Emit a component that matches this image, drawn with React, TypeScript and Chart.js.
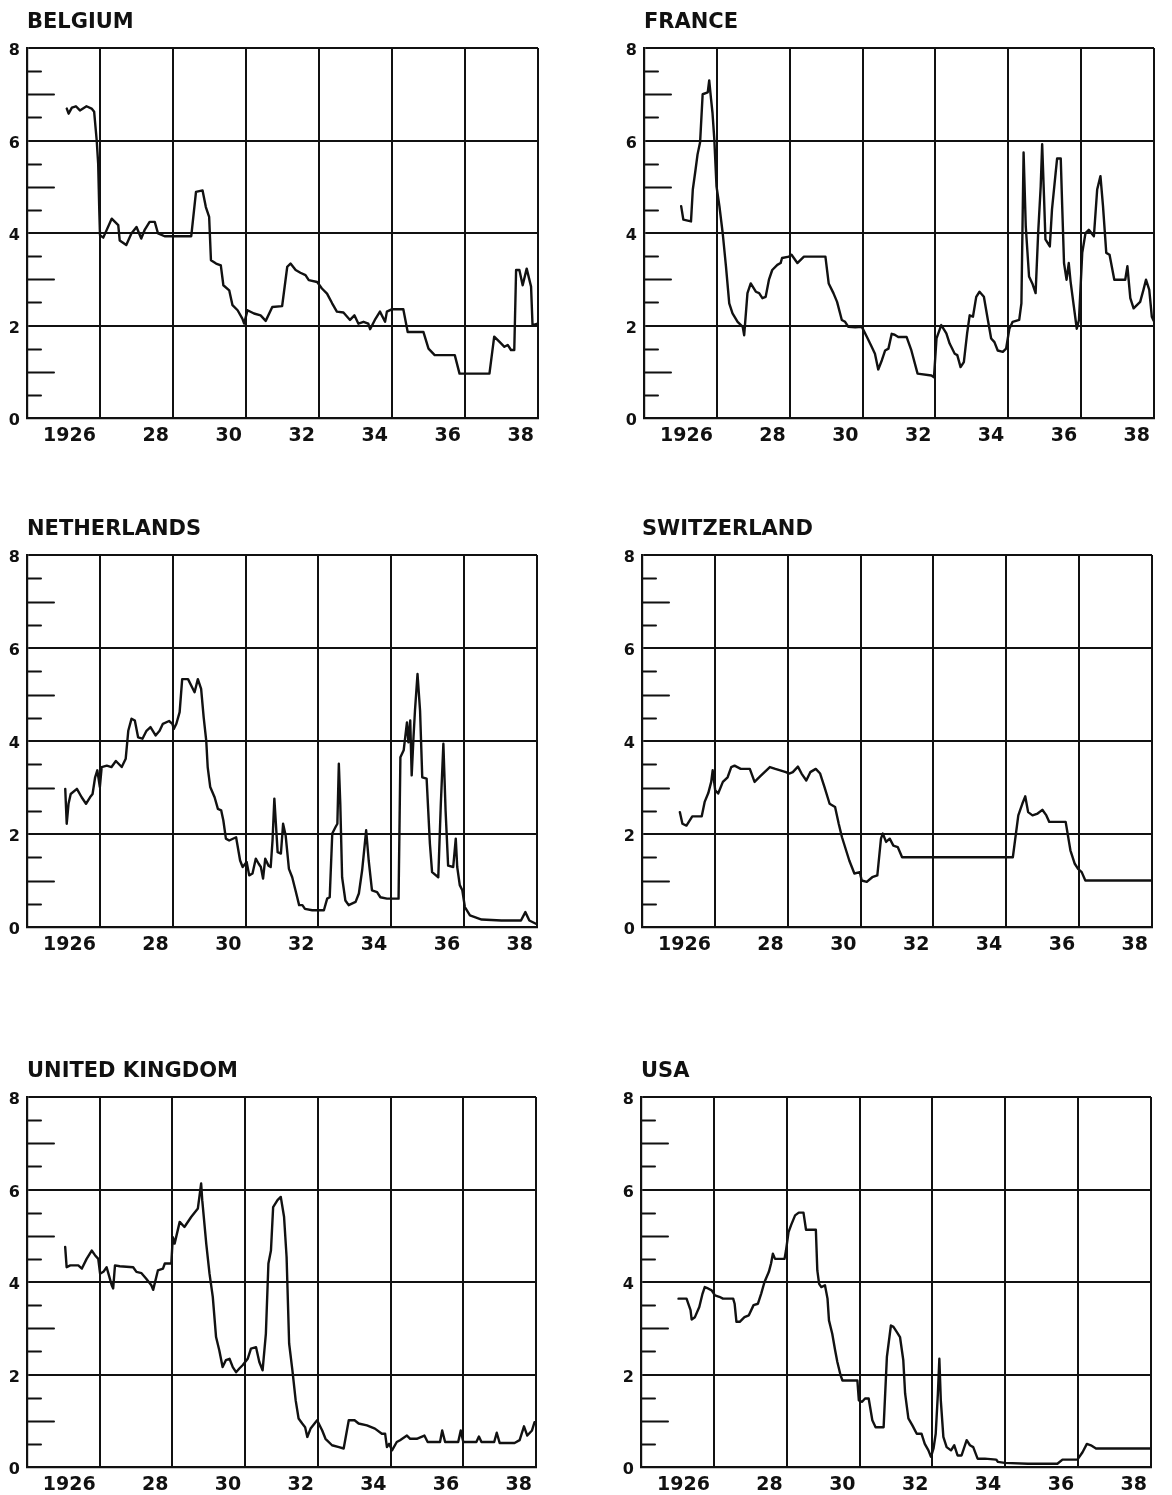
import React, { useEffect, useRef } from 'react';
import { Chart, registerables } from 'chart.js';

Chart.register(...registerables);

const FONT = '"DejaVu Sans", "Liberation Sans", sans-serif';
const INK = '#111111';

// Axis definitions
const xGridYears = [1927, 1929, 1931, 1933, 1935, 1937, 1939];
const xTickLabels = ['1926', '28', '30', '32', '34', '36', '38'];
const yTickValues = [0, 2, 4, 6, 8];
const yMinorTicks = [0.5, 1, 1.5, 2.5, 3, 3.5, 4.5, 5, 5.5, 6.5, 7, 7.5];

// Series: [year, rate %]
const belgium: [number, number][] = [
  [1926.09, 6.69], [1926.14, 6.58], [1926.23, 6.71], [1926.34, 6.74], [1926.45, 6.65], [1926.63, 6.74],
  [1926.77, 6.69], [1926.84, 6.62], [1926.91, 6.0], [1926.95, 5.5], [1926.98, 4.5], [1927.0, 3.95],
  [1927.09, 3.9], [1927.32, 4.31], [1927.5, 4.17], [1927.54, 3.84], [1927.72, 3.74], [1927.86, 3.99],
  [1928.0, 4.13], [1928.13, 3.88], [1928.22, 4.06], [1928.36, 4.24], [1928.5, 4.24], [1928.59, 3.99],
  [1928.77, 3.93], [1929.0, 3.93], [1929.5, 3.93], [1929.63, 4.89], [1929.81, 4.92], [1929.9, 4.56],
  [1929.99, 4.35], [1930.04, 3.41], [1930.18, 3.34], [1930.31, 3.3], [1930.38, 2.87], [1930.54, 2.76],
  [1930.63, 2.44], [1930.77, 2.33], [1930.9, 2.15], [1930.95, 2.04], [1931.04, 2.33], [1931.22, 2.26],
  [1931.4, 2.22], [1931.54, 2.1], [1931.72, 2.4], [1931.99, 2.42], [1932.13, 3.27], [1932.22, 3.34],
  [1932.36, 3.2], [1932.49, 3.14], [1932.63, 3.09], [1932.72, 2.98], [1932.95, 2.94], [1933.08, 2.8],
  [1933.22, 2.69], [1933.36, 2.48], [1933.49, 2.3], [1933.67, 2.28], [1933.85, 2.12], [1933.97, 2.22],
  [1934.08, 2.04], [1934.22, 2.08], [1934.35, 2.04], [1934.4, 1.92], [1934.53, 2.12], [1934.67, 2.3],
  [1934.81, 2.08], [1934.86, 2.3], [1934.99, 2.35], [1935.31, 2.35], [1935.43, 1.86], [1935.86, 1.86],
  [1936.0, 1.5], [1936.17, 1.36], [1936.72, 1.36], [1936.85, 0.96], [1937.67, 0.96], [1937.8, 1.76],
  [1937.94, 1.65], [1938.08, 1.54], [1938.17, 1.58], [1938.26, 1.47], [1938.35, 1.47], [1938.4, 3.2],
  [1938.49, 3.2], [1938.58, 2.87], [1938.69, 3.23], [1938.81, 2.84], [1938.85, 2.01], [1938.99, 2.04],
];

const france: [number, number][] = [
  [1926.02, 4.58], [1926.08, 4.29], [1926.29, 4.25], [1926.34, 4.94], [1926.41, 5.34], [1926.47, 5.7],
  [1926.54, 5.96], [1926.61, 7.0], [1926.75, 7.04], [1926.79, 7.3], [1926.84, 6.9], [1926.88, 6.6],
  [1926.93, 6.03], [1926.99, 5.01], [1927.07, 4.58], [1927.16, 4.0], [1927.25, 3.28], [1927.34, 2.48],
  [1927.43, 2.26], [1927.57, 2.08], [1927.71, 1.97], [1927.75, 1.79], [1927.84, 2.7], [1927.93, 2.91],
  [1928.07, 2.73], [1928.16, 2.7], [1928.25, 2.59], [1928.34, 2.62], [1928.43, 2.99], [1928.52, 3.2],
  [1928.66, 3.31], [1928.75, 3.35], [1928.79, 3.46], [1928.98, 3.49], [1929.05, 3.53], [1929.21, 3.35],
  [1929.39, 3.49], [1929.98, 3.49], [1930.07, 2.91], [1930.2, 2.7], [1930.3, 2.51], [1930.43, 2.12],
  [1930.52, 2.08], [1930.61, 1.97], [1930.8, 1.96], [1930.98, 1.97], [1931.12, 1.75], [1931.25, 1.54],
  [1931.34, 1.39], [1931.43, 1.05], [1931.53, 1.25], [1931.62, 1.46], [1931.71, 1.5], [1931.8, 1.82],
  [1931.88, 1.8], [1931.98, 1.75], [1932.21, 1.75], [1932.34, 1.46], [1932.51, 0.96], [1932.89, 0.92],
  [1932.96, 0.88], [1933.03, 1.72], [1933.16, 2.01], [1933.3, 1.83], [1933.39, 1.61], [1933.53, 1.39],
  [1933.6, 1.36], [1933.69, 1.1], [1933.78, 1.21], [1933.87, 1.83], [1933.94, 2.22], [1934.03, 2.19],
  [1934.12, 2.62], [1934.21, 2.73], [1934.33, 2.62], [1934.44, 2.12], [1934.53, 1.72], [1934.62, 1.64],
  [1934.71, 1.46], [1934.85, 1.43], [1934.94, 1.5], [1935.03, 1.93], [1935.12, 2.08], [1935.3, 2.12],
  [1935.36, 2.48], [1935.42, 5.74], [1935.48, 4.14], [1935.57, 3.06], [1935.66, 2.91], [1935.75, 2.7],
  [1935.82, 4.0], [1935.89, 5.01], [1935.93, 5.92], [1935.98, 4.8], [1936.02, 3.86], [1936.14, 3.71],
  [1936.2, 4.51], [1936.3, 5.3], [1936.34, 5.61], [1936.44, 5.61], [1936.48, 4.58], [1936.53, 3.35],
  [1936.6, 2.99], [1936.66, 3.35], [1936.71, 2.95], [1936.8, 2.41], [1936.88, 1.93], [1936.94, 2.12],
  [1937.03, 3.57], [1937.12, 4.0], [1937.21, 4.07], [1937.35, 3.93], [1937.44, 4.94], [1937.53, 5.23],
  [1937.6, 4.58], [1937.69, 3.57], [1937.78, 3.53], [1937.91, 2.99], [1938.21, 2.99], [1938.27, 3.28],
  [1938.35, 2.59], [1938.44, 2.37], [1938.62, 2.51], [1938.71, 2.77], [1938.78, 2.99], [1938.87, 2.77],
  [1938.94, 2.19], [1938.99, 2.1],
];

const netherlands: [number, number][] = [
  [1926.05, 2.97], [1926.09, 2.22], [1926.14, 2.65], [1926.2, 2.86], [1926.37, 2.97], [1926.5, 2.79],
  [1926.62, 2.65], [1926.73, 2.79], [1926.8, 2.86], [1926.87, 3.22], [1926.93, 3.37], [1927.0, 3.01],
  [1927.05, 3.44], [1927.19, 3.47], [1927.32, 3.44], [1927.44, 3.57], [1927.6, 3.44], [1927.71, 3.62],
  [1927.78, 4.22], [1927.87, 4.48], [1927.96, 4.44], [1928.05, 4.08], [1928.17, 4.05], [1928.28, 4.22],
  [1928.39, 4.3], [1928.53, 4.12], [1928.64, 4.22], [1928.73, 4.37], [1928.9, 4.43], [1928.99, 4.37],
  [1929.03, 4.26], [1929.1, 4.37], [1929.19, 4.62], [1929.26, 5.33], [1929.42, 5.33], [1929.6, 5.05],
  [1929.69, 5.33], [1929.78, 5.12], [1929.85, 4.51], [1929.92, 4.01], [1929.96, 3.44], [1930.03, 3.01],
  [1930.15, 2.79], [1930.24, 2.54], [1930.33, 2.51], [1930.39, 2.29], [1930.46, 1.9], [1930.55, 1.86],
  [1930.74, 1.93], [1930.85, 1.43], [1930.92, 1.29], [1931.03, 1.4], [1931.1, 1.11], [1931.19, 1.15],
  [1931.28, 1.47], [1931.36, 1.36], [1931.42, 1.29], [1931.48, 1.04], [1931.54, 1.47], [1931.63, 1.32],
  [1931.69, 1.29], [1931.74, 1.86], [1931.79, 2.76], [1931.88, 1.61], [1931.97, 1.58], [1932.03, 2.22],
  [1932.1, 1.97], [1932.19, 1.25], [1932.28, 1.07], [1932.37, 0.79], [1932.47, 0.47], [1932.56, 0.47],
  [1932.63, 0.39], [1932.83, 0.36], [1933.15, 0.36], [1933.24, 0.61], [1933.31, 0.64], [1933.38, 2.01],
  [1933.47, 2.15], [1933.52, 2.22], [1933.56, 3.51], [1933.6, 2.65], [1933.65, 1.07], [1933.74, 0.57],
  [1933.83, 0.47], [1934.02, 0.54], [1934.11, 0.72], [1934.2, 1.22], [1934.31, 2.08], [1934.38, 1.43],
  [1934.47, 0.79], [1934.61, 0.75], [1934.7, 0.64], [1934.88, 0.61], [1935.2, 0.61], [1935.25, 3.65],
  [1935.34, 3.8], [1935.43, 4.4], [1935.47, 3.97], [1935.52, 4.44], [1935.56, 3.26], [1935.61, 4.08],
  [1935.65, 4.65], [1935.72, 5.44], [1935.79, 4.65], [1935.85, 3.22], [1935.97, 3.19], [1936.06, 1.79],
  [1936.12, 1.18], [1936.29, 1.07], [1936.36, 2.65], [1936.43, 3.94], [1936.49, 2.51], [1936.56, 1.32],
  [1936.7, 1.29], [1936.77, 1.9], [1936.81, 1.29], [1936.88, 0.9], [1936.95, 0.79], [1937.02, 0.43],
  [1937.16, 0.25], [1937.48, 0.16], [1938.02, 0.14], [1938.56, 0.14], [1938.68, 0.32], [1938.79, 0.14],
  [1938.97, 0.07],
];

const switzerland: [number, number][] = [
  [1926.04, 2.47], [1926.11, 2.22], [1926.22, 2.18], [1926.38, 2.38], [1926.64, 2.38], [1926.72, 2.69],
  [1926.82, 2.88], [1926.9, 3.12], [1926.94, 3.37], [1927.01, 2.94], [1927.09, 2.87], [1927.22, 3.12],
  [1927.35, 3.22], [1927.45, 3.44], [1927.54, 3.47], [1927.71, 3.4], [1927.96, 3.4], [1928.09, 3.12],
  [1928.27, 3.26], [1928.51, 3.44], [1928.66, 3.4], [1928.95, 3.33], [1929.04, 3.3], [1929.14, 3.33],
  [1929.28, 3.45], [1929.38, 3.3], [1929.51, 3.15], [1929.62, 3.33], [1929.77, 3.4], [1929.89, 3.3],
  [1930.01, 3.01], [1930.15, 2.65], [1930.3, 2.58], [1930.4, 2.22], [1930.49, 1.93], [1930.69, 1.43],
  [1930.83, 1.15], [1930.98, 1.18], [1931.03, 1.0], [1931.17, 0.97], [1931.32, 1.07], [1931.46, 1.11],
  [1931.56, 1.9], [1931.61, 2.01], [1931.7, 1.83], [1931.8, 1.9], [1931.9, 1.75], [1932.02, 1.72],
  [1932.14, 1.5], [1935.18, 1.5], [1935.33, 2.4], [1935.44, 2.65], [1935.52, 2.81], [1935.6, 2.47],
  [1935.72, 2.4], [1935.86, 2.44], [1935.99, 2.52], [1936.1, 2.4], [1936.18, 2.26], [1936.63, 2.26],
  [1936.76, 1.65], [1936.88, 1.36], [1936.97, 1.25], [1937.07, 1.18], [1937.17, 1.0], [1939.0, 1.0],
];

const unitedKingdom: [number, number][] = [
  [1926.05, 4.76], [1926.09, 4.32], [1926.19, 4.36], [1926.41, 4.36], [1926.51, 4.29], [1926.64, 4.5],
  [1926.78, 4.68], [1926.87, 4.58], [1926.96, 4.5], [1927.01, 4.18], [1927.1, 4.22], [1927.19, 4.32],
  [1927.24, 4.18], [1927.33, 3.93], [1927.37, 3.86], [1927.42, 4.36], [1927.55, 4.34], [1927.92, 4.32],
  [1928.01, 4.22], [1928.15, 4.19], [1928.28, 4.07], [1928.42, 3.93], [1928.47, 3.83], [1928.6, 4.25],
  [1928.74, 4.29], [1928.79, 4.4], [1928.97, 4.4], [1929.01, 4.97], [1929.06, 4.83], [1929.2, 5.3],
  [1929.33, 5.19], [1929.52, 5.41], [1929.7, 5.59], [1929.79, 6.13], [1929.82, 5.77], [1929.93, 4.83],
  [1930.02, 4.18], [1930.11, 3.68], [1930.2, 2.81], [1930.29, 2.52], [1930.38, 2.16], [1930.47, 2.31],
  [1930.57, 2.34], [1930.66, 2.16], [1930.75, 2.05], [1930.84, 2.13], [1930.93, 2.2], [1931.07, 2.34],
  [1931.16, 2.56], [1931.3, 2.59], [1931.39, 2.27], [1931.48, 2.09], [1931.57, 2.88], [1931.64, 4.4],
  [1931.71, 4.68], [1931.77, 5.62], [1931.89, 5.77], [1931.98, 5.84], [1932.07, 5.41], [1932.14, 4.54],
  [1932.21, 2.67], [1932.3, 2.09], [1932.39, 1.44], [1932.47, 1.05], [1932.57, 0.94], [1932.65, 0.86],
  [1932.71, 0.65], [1932.8, 0.83], [1932.98, 1.01], [1933.12, 0.79], [1933.21, 0.61], [1933.39, 0.47],
  [1933.58, 0.43], [1933.71, 0.4], [1933.85, 1.01], [1934.01, 1.01], [1934.12, 0.94], [1934.35, 0.9],
  [1934.57, 0.83], [1934.76, 0.72], [1934.85, 0.72], [1934.9, 0.43], [1934.96, 0.5], [1935.04, 0.36],
  [1935.17, 0.54], [1935.26, 0.58], [1935.45, 0.68], [1935.54, 0.61], [1935.72, 0.61], [1935.93, 0.68],
  [1936.02, 0.54], [1936.36, 0.54], [1936.42, 0.79], [1936.5, 0.54], [1936.86, 0.54], [1936.93, 0.79],
  [1937.0, 0.54], [1937.36, 0.54], [1937.43, 0.66], [1937.5, 0.54], [1937.85, 0.54], [1937.92, 0.74],
  [1938.0, 0.52], [1938.41, 0.52], [1938.55, 0.58], [1938.67, 0.88], [1938.76, 0.68], [1938.89, 0.79],
  [1938.96, 0.97],
];

const usa: [number, number][] = [
  [1926.03, 3.64], [1926.25, 3.64], [1926.36, 3.39], [1926.39, 3.19], [1926.48, 3.24], [1926.6, 3.46],
  [1926.69, 3.75], [1926.75, 3.89], [1926.84, 3.86], [1926.94, 3.82], [1927.03, 3.71], [1927.15, 3.68],
  [1927.25, 3.64], [1927.53, 3.64], [1927.57, 3.53], [1927.62, 3.14], [1927.71, 3.14], [1927.84, 3.24],
  [1927.96, 3.28], [1928.09, 3.5], [1928.21, 3.53], [1928.3, 3.75], [1928.39, 4.0], [1928.51, 4.22],
  [1928.57, 4.4], [1928.62, 4.61], [1928.68, 4.5], [1928.94, 4.5], [1928.98, 4.68], [1929.05, 5.08],
  [1929.12, 5.23], [1929.23, 5.44], [1929.33, 5.5], [1929.46, 5.5], [1929.53, 5.13], [1929.8, 5.13],
  [1929.84, 4.25], [1929.89, 3.96], [1929.95, 3.89], [1930.05, 3.93], [1930.12, 3.64], [1930.16, 3.17],
  [1930.25, 2.88], [1930.33, 2.52], [1930.39, 2.27], [1930.48, 1.98], [1930.53, 1.87], [1930.94, 1.87],
  [1930.98, 1.44], [1931.07, 1.41], [1931.15, 1.48], [1931.25, 1.48], [1931.35, 1.01], [1931.44, 0.86],
  [1931.66, 0.86], [1931.75, 2.38], [1931.86, 3.06], [1931.93, 3.03], [1932.02, 2.92], [1932.11, 2.81],
  [1932.2, 2.31], [1932.25, 1.59], [1932.34, 1.05], [1932.45, 0.9], [1932.57, 0.72], [1932.7, 0.72],
  [1932.79, 0.5], [1932.89, 0.36], [1932.96, 0.22], [1933.03, 0.4], [1933.09, 0.72], [1933.15, 1.59],
  [1933.19, 2.34], [1933.23, 1.44], [1933.3, 0.65], [1933.39, 0.43], [1933.51, 0.36], [1933.6, 0.47],
  [1933.69, 0.25], [1933.8, 0.25], [1933.94, 0.58], [1934.03, 0.47], [1934.12, 0.43], [1934.24, 0.18],
  [1934.44, 0.18], [1934.75, 0.16], [1934.8, 0.11], [1934.98, 0.09], [1935.62, 0.07], [1936.43, 0.07],
  [1936.57, 0.16], [1936.98, 0.16], [1937.12, 0.32], [1937.24, 0.5], [1937.35, 0.47], [1937.49, 0.4],
  [1938.98, 0.4],
];

// Panel placement (plot-area rectangle in page pixels)
const panels = [
  { title: 'BELGIUM', series: belgium, left: 27, top: 48, right: 541, bottom: 418 },
  { title: 'FRANCE', series: france, left: 644, top: 48, right: 1157, bottom: 418 },
  { title: 'NETHERLANDS', series: netherlands, left: 27, top: 555, right: 540, bottom: 927 },
  { title: 'SWITZERLAND', series: switzerland, left: 642, top: 555, right: 1155, bottom: 927 },
  { title: 'UNITED KINGDOM', series: unitedKingdom, left: 27, top: 1097, right: 539, bottom: 1467 },
  { title: 'USA', series: usa, left: 641, top: 1097, right: 1154, bottom: 1467 },
];

const AXIS_W = 27;
const TITLE_H = 48;
const XAXIS_H = 34;
const PAD_R = 4;

const minorTicksPlugin = {
  id: 'minorTicks',
  beforeDatasetsDraw(chart: any) {
    const { ctx, chartArea } = chart;
    const yScale = chart.scales.y;
    ctx.save();
    ctx.strokeStyle = INK;
    ctx.lineWidth = 2;
    ctx.lineCap = 'round';
    yMinorTicks.forEach((v) => {
      const py = Math.round(yScale.getPixelForValue(v)) + 0.5;
      const len = Number.isInteger(v) ? 27 : 14;
      ctx.beginPath();
      ctx.moveTo(chartArea.left, py);
      ctx.lineTo(chartArea.left + len, py);
      ctx.stroke();
    });
    ctx.restore();
  },
};

function Panel(props: { title: string; series: [number, number][]; left: number; top: number; right: number; bottom: number }) {
  const { title, series, left, top, right, bottom } = props;
  const ref = useRef<HTMLCanvasElement | null>(null);
  const cw = right - left + AXIS_W + PAD_R;
  const ch = bottom - top + TITLE_H + XAXIS_H;

  useEffect(() => {
    if (!ref.current) return;
    const chart = new Chart(ref.current, {
      type: 'scatter',
      data: {
        datasets: [
          {
            data: series.map(([x, y]) => ({ x, y })),
            showLine: true,
            borderColor: INK,
            backgroundColor: INK,
            borderWidth: 2.4,
            pointRadius: 0,
            pointHoverRadius: 0,
            tension: 0,
            fill: false,
            borderJoinStyle: 'round',
            borderCapStyle: 'round',
          } as any,
        ],
      },
      options: {
        responsive: false,
        animation: false,
        events: [],
        layout: { padding: { left: 0, right: PAD_R, top: 0, bottom: 0 } },
        plugins: {
          legend: { display: false },
          tooltip: { enabled: false },
          title: {
            display: true,
            text: title,
            align: 'start',
            fullSize: false,
            color: INK,
            font: { family: FONT, size: 21, weight: 'bold', lineHeight: 1.2 },
            padding: { top: 10, bottom: 12.8 },
          },
        },
        scales: {
          x: {
            type: 'linear',
            min: 1925,
            max: 1939,
            afterBuildTicks: (s: any) => {
              s.ticks = xGridYears.map((v) => ({ value: v }));
            },
            afterFit: (s: any) => {
              s.height = XAXIS_H;
            },
            ticks: {
              callback: (_v: any, i: number) => xTickLabels[i],
              align: 'end',
              labelOffset: -4,
              padding: 7,
              maxRotation: 0,
              autoSkip: false,
              color: INK,
              font: { family: FONT, size: 19, weight: 'bold' },
            },
            grid: { color: INK, lineWidth: 2, drawTicks: false },
            border: { color: INK, width: 2.2 },
          },
          y: {
            type: 'linear',
            min: 0,
            max: 8,
            afterBuildTicks: (s: any) => {
              s.ticks = yTickValues.map((v) => ({ value: v }));
            },
            afterFit: (s: any) => {
              s.width = AXIS_W;
            },
            ticks: {
              padding: 7,
              labelOffset: 3,
              color: INK,
              font: { family: FONT, size: 16, weight: 'bold' },
            },
            grid: { color: INK, lineWidth: 2, drawTicks: false },
            border: { color: INK, width: 2.2 },
          },
        },
      } as any,
      plugins: [minorTicksPlugin],
    });
    return () => chart.destroy();
  }, []);

  return (
    <canvas
      ref={ref}
      width={cw}
      height={ch}
      style={{ position: 'absolute', left: left - AXIS_W, top: top - TITLE_H, width: cw, height: ch }}
    />
  );
}

export default function App() {
  return (
    <div style={{ position: 'absolute', left: 0, top: 0, width: 1172, height: 1495, background: '#ffffff', overflow: 'hidden' }}>
      {panels.map((p) => (
        <Panel key={p.title} {...p} />
      ))}
    </div>
  );
}
